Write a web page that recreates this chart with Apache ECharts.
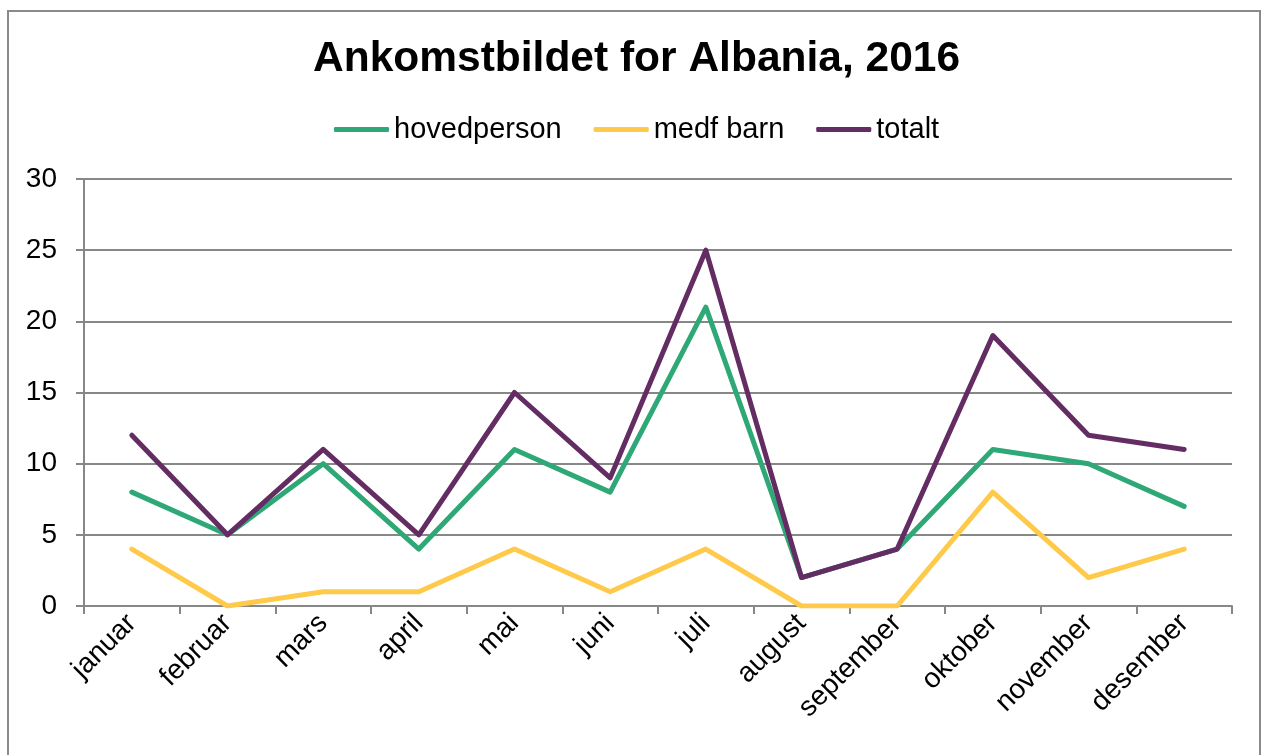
<!DOCTYPE html>
<html>
<head>
<meta charset="utf-8">
<script src="https://cdn.jsdelivr.net/npm/echarts@6/dist/echarts.min.js"></script>
<style>
  html, body { margin: 0; padding: 0; background: #fff; overflow: hidden; }
  #frame { position: absolute; left: 7px; top: 10px; width: 1254px; height: 760px; border: 2px solid #8a8a8a; box-sizing: border-box; }
  #chart { position: absolute; left: 0; top: 0; width: 1262px; height: 755px; }
</style>
</head>
<body>
<div id="frame"></div>
<div id="chart"></div>
<script>
// måneder og verdier lest av figuren
const months = ["januar", "februar", "mars", "april", "mai", "juni", "juli", "august", "september", "oktober", "november", "desember"];
const hovedperson = [8, 5, 10, 4, 11, 8, 21, 2, 4, 11, 10, 7];
const medfBarn = [4, 0, 1, 1, 4, 1, 4, 0, 0, 8, 2, 4];
const totalt = [12, 5, 11, 5, 15, 9, 25, 2, 4, 19, 12, 11];

const chart = echarts.init(document.getElementById("chart"));
const font = "Liberation Sans, Arial, sans-serif";

function lineSeries(name, data, color) {
  return {
    name: name,
    type: "line",
    data: data,
    symbol: "none",
    lineStyle: { color: color, width: 5, cap: "round", join: "round" },
    itemStyle: { color: color },
  };
}

chart.setOption({
  animation: false,
  textStyle: { fontFamily: font },
  title: {
    text: "Ankomstbildet for Albania, 2016",
    left: 308,
    top: 33,
    textStyle: { fontSize: 42.5, fontWeight: "bold", color: "#000", fontFamily: font },
  },
  legend: {
    top: 110,
    left: 329,
    icon: "roundRect",
    itemWidth: 55,
    itemHeight: 5,
    itemGap: 32,
    textStyle: { fontSize: 29, color: "#000", fontFamily: font },
    data: ["hovedperson", "medf barn", "totalt"],
  },
  grid: { left: 84, right: 30, top: 179, bottom: 149, containLabel: false },
  xAxis: {
    type: "category",
    data: months,
    boundaryGap: true,
    axisLine: { lineStyle: { color: "#878787", width: 2 } },
    axisTick: { show: true, length: 8, lineStyle: { color: "#878787", width: 2 } },
    axisLabel: { rotate: 45, fontSize: 28, color: "#000", fontFamily: font, margin: 13 },
  },
  yAxis: {
    type: "value",
    min: 0,
    max: 30,
    interval: 5,
    axisLine: { show: true, lineStyle: { color: "#878787", width: 2 } },
    axisTick: { show: true, length: 8, lineStyle: { color: "#878787", width: 2 } },
    splitLine: { lineStyle: { color: "#878787", width: 2 } },
    axisLabel: { fontSize: 28, color: "#000", fontFamily: font, margin: 27 },
  },
  series: [
    lineSeries("hovedperson", hovedperson, "#2EA876"),
    lineSeries("medf barn", medfBarn, "#FFC94A"),
    lineSeries("totalt", totalt, "#632C63"),
  ],
});
</script>
</body>
</html>
